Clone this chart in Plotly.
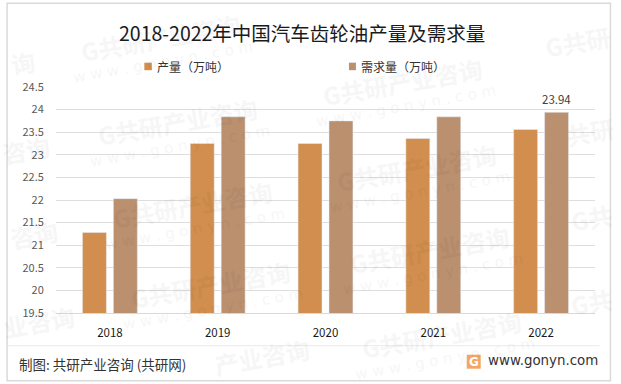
import plotly.graph_objects as go

categories = ["2018", "2019", "2020", "2021", "2022"]
production = [21.28, 23.25, 23.25, 23.36, 23.56]
demand = [22.03, 23.84, 23.75, 23.84, 23.94]
y_ticks = [19.5, 20, 20.5, 21, 21.5, 22, 22.5, 23, 23.5, 24, 24.5]
y_tick_labels = ["19.5", "20", "20.5", "21", "21.5", "22", "22.5", "23", "23.5", "24", "24.5"]
series_names = ["产量（万吨）", "需求量（万吨）"]
colors = ["#D18E4E", "#BA906F"]

W, H = 621, 384
L, R, T, B = 55.5, 25.5, 87.3, 70.7
CJK = "Noto Sans CJK SC"
WM = "G共研产业咨询"
WWW = "w w w . g o n y n . c o m"

fig = go.Figure()
fig.add_bar(name=series_names[0], x=categories, y=production, marker_color=colors[0],
            hoverinfo="skip")
fig.add_bar(name=series_names[1], x=categories, y=demand, marker_color=colors[1],
            hoverinfo="skip")

def px(x): return (x - L) / (W - L - R)
def py(y): return (H - B - y) / (H - T - B)

def note(x, y, text, size, color, family=CJK, xanchor="center", **kw):
    return dict(x=px(x), y=py(y), xref="paper", yref="paper", showarrow=False,
                xanchor=xanchor, yanchor="middle", text=text,
                font=dict(size=size, family=family, color=color), **kw)

def wm(x, y, text, size=24, bold=True):
    return note(x, y, f"<b>{text}</b>" if bold else text, size, "#000000",
                family=CJK if bold else "DejaVu Sans", textangle=-10, opacity=0.03)

annotations = []
# full watermark blocks
for mx, my in [(160, 38), (177, 122), (403, 82), (417, 168), (192, 205),
               (210, 285), (430, 250), (442, 335)]:
    annotations.append(wm(mx, my, WM))
    annotations.append(wm(mx + 3, my + 24, WWW, size=15, bold=False))
# watermark pieces that run into the frame's edges
for mx, my, piece in [(578, 42, "G共研"), (590, 132, "共研"), (592, 218, "G共"), (592, 302, "G共"),
                      (22, 63, "询"), (25, 150, "咨询"), (33, 235, "咨询"), (38, 322, "业咨询"),
                      (262, 357, "产业咨询")]:
    annotations.append(wm(mx, my, piece))

annotations += [
    note(302, 33, "2018-2022年中国汽车齿轮油产量及需求量", 19.5, "#1a1a1a"),
    note(154.5, 67, series_names[0], 12, "#333333", xanchor="left"),
    note(359, 67, series_names[1], 12, "#333333", xanchor="left"),
    note(16.5, 364, "制图: 共研产业咨询 (共研网)", 13.5, "#333333", xanchor="left"),
    note(601, 361, "www.gonyn.com", 13.4, "#333333", family="DejaVu Sans", xanchor="right"),
    note(474, 362, "<b>G</b>", 12, "#FFFFFF", family="DejaVu Sans"),
    dict(x=len(categories) - 1, xref="x", y=demand[-1], yref="y", xshift=15.5, yshift=3,
         showarrow=False, xanchor="center", yanchor="bottom", text=f"{demand[-1]:.2f}",
         font=dict(size=11.5, color="#404040", family=CJK)),
]

shapes = [
    dict(type="rect", xref="paper", yref="paper", x0=px(6.5), x1=px(611), y0=py(381), y1=py(3.5),
         line=dict(color="#D9D9D9", width=1.5), fillcolor="rgba(0,0,0,0)"),
    dict(type="line", xref="paper", yref="paper", x0=px(7), x1=px(600), y0=py(346), y1=py(346),
         line=dict(color="#EAEAEA", width=1)),
    dict(type="rect", xref="paper", yref="paper", x0=px(467), x1=px(481), y0=py(369), y1=py(355),
         line=dict(width=0), fillcolor="#F4A463"),
    dict(type="rect", xref="paper", yref="paper", x0=px(144), x1=px(151.5), y0=py(70.5), y1=py(63),
         line=dict(width=0), fillcolor=colors[0]),
    dict(type="rect", xref="paper", yref="paper", x0=px(349), x1=px(356), y0=py(70.5), y1=py(63),
         line=dict(width=0), fillcolor=colors[1]),
]

fig.update_layout(
    width=W, height=H, autosize=False,
    paper_bgcolor="white", plot_bgcolor="rgba(0,0,0,0)",
    margin=dict(l=L, r=R, t=T, b=B),
    barmode="group", bargap=0.426, bargroupgap=0.226,
    showlegend=False,
    annotations=annotations, shapes=shapes,
    font=dict(family=CJK),
    xaxis=dict(type="category", range=[-0.5, len(categories) - 0.5],
               showline=True, linecolor="#D9D9D9", linewidth=1,
               ticks="outside", ticklen=9, tickcolor="rgba(0,0,0,0)",
               tickfont=dict(size=11.5, color="#1a1a1a", family=CJK), fixedrange=True),
    yaxis=dict(range=[19.5, 24.5], tickvals=y_ticks, ticktext=y_tick_labels,
               showgrid=True, gridcolor="#DEDEDE", gridwidth=1, zeroline=False,
               ticks="outside", ticklen=9, tickcolor="rgba(0,0,0,0)",
               tickfont=dict(size=11, color="#595959", family=CJK), fixedrange=True),
)
fig.write_html("out.html", config={"displayModeBar": False},
               post_script="document.body.style.margin='0';document.documentElement.style.overflow='hidden';")
